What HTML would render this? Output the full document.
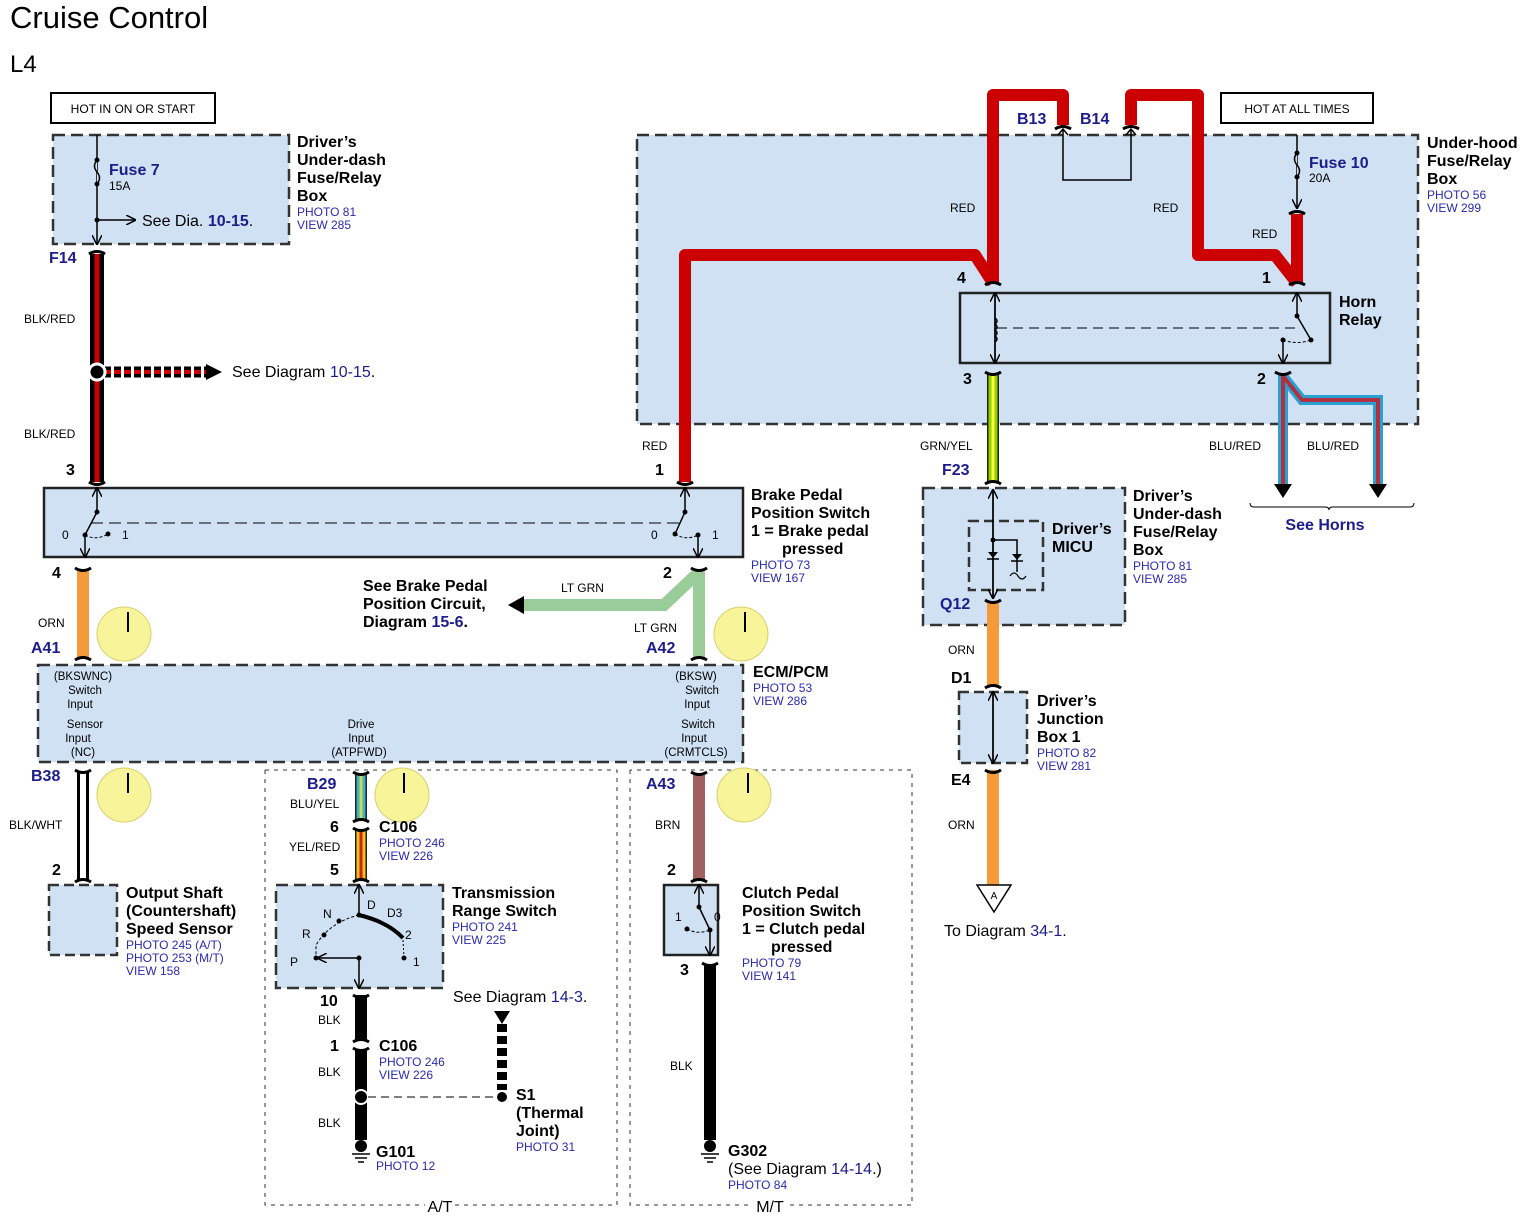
<!DOCTYPE html>
<html><head><meta charset="utf-8"><style>
html,body{margin:0;padding:0;background:#fff}
svg{display:block}
text{font-family:"Liberation Sans",Arial,sans-serif}
.b{font-weight:bold;font-size:16px;fill:#000}
.bl{font-weight:bold;font-size:16px;fill:#1c1c8c}
.s{font-size:12px;fill:#000}
.p{font-size:12px;fill:#2a2ab0}
.n{font-weight:bold;font-size:16px;fill:#000}
</style></head><body>
<svg width="1534" height="1222" viewBox="0 0 1534 1222" xmlns="http://www.w3.org/2000/svg">
<defs>
<marker id="ah" markerWidth="10" markerHeight="10" refX="9" refY="5" orient="auto" markerUnits="userSpaceOnUse"><path d="M0,0 L10,5 L0,10" fill="none" stroke="#000" stroke-width="1.5"/></marker>
</defs>
<text x="10" y="28" style="font-size:31px">Cruise Control</text>
<text x="10" y="72" style="font-size:24px">L4</text>

<rect x="51" y="93" width="164" height="30" fill="#fff" stroke="#000" stroke-width="2"/>
<text x="133" y="113" class="s" text-anchor="middle">HOT IN ON OR START</text>
<rect x="1221" y="93" width="152" height="30" fill="#fff" stroke="#000" stroke-width="2"/>
<text x="1297" y="113" class="s" text-anchor="middle">HOT AT ALL TIMES</text>

<rect x="53" y="135" width="236" height="109" fill="#cfe1f3" stroke="#333" stroke-width="2.5" stroke-dasharray="12,6"/>
<rect x="637" y="135" width="781" height="289" fill="#cfe1f3" stroke="#333" stroke-width="2.5" stroke-dasharray="12,6"/>
<rect x="44" y="488" width="699" height="69" fill="#cfe1f3" stroke="#222" stroke-width="2.5"/>
<rect x="38" y="665" width="705" height="97" fill="#cfe1f3" stroke="#333" stroke-width="2.5" stroke-dasharray="12,6"/>
<rect x="923" y="488" width="202" height="137" fill="#cfe1f3" stroke="#333" stroke-width="2.5" stroke-dasharray="12,6"/>
<rect x="969" y="521" width="74" height="69" fill="none" stroke="#333" stroke-width="2.5" stroke-dasharray="10,5"/>
<rect x="959" y="692" width="68" height="71" fill="#cfe1f3" stroke="#333" stroke-width="2.5" stroke-dasharray="10,5"/>
<rect x="960" y="293" width="370" height="70" fill="#cfe1f3" stroke="#222" stroke-width="2.5"/>
<rect x="49" y="885" width="68" height="70" fill="#cfe1f3" stroke="#333" stroke-width="2.5" stroke-dasharray="10,5"/>
<rect x="276" y="885" width="167" height="103" fill="#cfe1f3" stroke="#333" stroke-width="2.5" stroke-dasharray="12,6"/>
<rect x="664" y="885" width="54" height="70" fill="#cfe1f3" stroke="#222" stroke-width="2.5"/>
<path d="M265,770 V1205 H425 M455,1205 H617 V770" fill="none" stroke="#333" stroke-width="1" stroke-dasharray="4,5"/>
<line x1="265" y1="770" x2="617" y2="770" stroke="#333" stroke-width="1" stroke-dasharray="4,5"/>
<path d="M630,770 V1205 H752 M790,1205 H912 V770 H630" fill="none" stroke="#333" stroke-width="1" stroke-dasharray="4,5"/>
<text x="440" y="1212" class="s" style="font-size:16px" text-anchor="middle">A/T</text>
<text x="770" y="1212" class="s" style="font-size:16px" text-anchor="middle">M/T</text>

<line x1="97" y1="135" x2="97" y2="244" stroke="#000" stroke-width="1.5" marker-end="url(#ah)"/>
<path d="M97,160 q-5,6 0,12 q5,6 0,12" fill="#cfe1f3" stroke="#000" stroke-width="1.5"/>
<circle cx="97" cy="160" r="2.5"/><circle cx="97" cy="184" r="2.5"/><circle cx="97" cy="220" r="2.5"/>
<line x1="97" y1="220" x2="135" y2="220" stroke="#000" stroke-width="1.5" marker-end="url(#ah)"/>
<text x="109" y="175" class="bl">Fuse 7</text><text x="109" y="190" class="s">15A</text>
<text x="142" y="226" class="n" style="font-weight:normal">See  Dia.  <tspan fill="#1c1c8c" font-weight="bold">10-15</tspan>.</text>
<text x="297" y="147" class="b">Driver’s</text><text x="297" y="165" class="b">Under-dash</text><text x="297" y="183" class="b">Fuse/Relay</text><text x="297" y="201" class="b">Box</text>
<text x="297" y="216" class="p">PHOTO 81</text><text x="297" y="229" class="p">VIEW 285</text>
<text x="49" y="263" class="bl">F14</text>

<line x1="97" y1="254" x2="97" y2="482" stroke="#000" stroke-width="14"/>
<line x1="97" y1="254" x2="97" y2="482" stroke="#c00" stroke-width="5"/>
<line x1="104" y1="372" x2="208" y2="372" stroke="#000" stroke-width="11" stroke-dasharray="7,3"/>
<line x1="104" y1="372" x2="208" y2="372" stroke="#c00" stroke-width="4" stroke-dasharray="7,3"/>
<path d="M206,364 L222,372 L206,380Z"/>
<circle cx="97" cy="372" r="8" fill="#000" stroke="#fff" stroke-width="3"/>
<text x="232" y="377" class="n" style="font-weight:normal">See Diagram <tspan fill="#1c1c8c">10-15</tspan>.</text>
<text x="24" y="323" class="s">BLK/RED</text><text x="24" y="438" class="s">BLK/RED</text>
<text x="66" y="475" class="n">3</text>

<g fill="none" stroke="#c00" stroke-width="12" stroke-linejoin="round">
<path d="M685,482 V255 H975 L993,283"/>
<path d="M993,283 V95 H1063 V125"/>
<path d="M1131,125 V95 H1198 V255 H1275 L1297,283"/>
<path d="M1297,214 V283"/>
</g>
<path d="M1063,130 V180 H1131 V130" fill="none" stroke="#000" stroke-width="1.5"/>
<path d="M1058,135 l5,-6 l5,6 M1126,135 l5,-6 l5,6" fill="none" stroke="#000" stroke-width="1.5"/>
<text x="1017" y="124" class="bl">B13</text><text x="1080" y="124" class="bl">B14</text>
<text x="950" y="212" class="s">RED</text><text x="1153" y="212" class="s">RED</text><text x="1252" y="238" class="s">RED</text>
<text x="642" y="450" class="s">RED</text>
<text x="655" y="475" class="n">1</text>
<line x1="1297" y1="135" x2="1297" y2="208" stroke="#000" stroke-width="1.5" marker-end="url(#ah)"/>
<path d="M1297,153 q-5,6 0,12 q5,6 0,12" fill="#cfe1f3" stroke="#000" stroke-width="1.5"/>
<circle cx="1297" cy="153" r="2.5"/><circle cx="1297" cy="177" r="2.5"/>
<text x="1309" y="168" class="bl">Fuse 10</text><text x="1309" y="182" class="s">20A</text>
<text x="1427" y="148" class="b">Under-hood</text><text x="1427" y="166" class="b">Fuse/Relay</text><text x="1427" y="184" class="b">Box</text>
<text x="1427" y="199" class="p">PHOTO 56</text><text x="1427" y="212" class="p">VIEW 299</text>

<text x="957" y="283" class="n">4</text><text x="1262" y="283" class="n">1</text>
<text x="963" y="384" class="n">3</text><text x="1257" y="384" class="n">2</text>
<line x1="995" y1="363" x2="995" y2="293" stroke="#000" stroke-width="1.5" marker-end="url(#ah)"/>
<line x1="995" y1="293" x2="995" y2="363" stroke="#000" stroke-width="1.5" marker-end="url(#ah)"/>
<path d="M995,318 q4,3 0,6 q4,3 0,6 q4,3 0,6 q4,3 0,6" fill="none" stroke="#000" stroke-width="1.5"/>
<line x1="997" y1="328" x2="1297" y2="328" stroke="#000" stroke-width="1" stroke-dasharray="10,6"/>
<line x1="1297" y1="316" x2="1297" y2="293" stroke="#000" stroke-width="1.5" marker-end="url(#ah)"/>
<path d="M1297,316 L1311,340" stroke="#000" stroke-width="1.5"/>
<circle cx="1297" cy="316" r="2.5"/><circle cx="1311" cy="340" r="2.5"/><circle cx="1283" cy="340" r="2.5"/>
<path d="M1283,340 Q1297,345 1311,340" fill="none" stroke="#000" stroke-width="1" stroke-dasharray="3,2"/>
<line x1="1283" y1="340" x2="1283" y2="363" stroke="#000" stroke-width="1.5" marker-end="url(#ah)"/>
<text x="1339" y="307" class="b">Horn</text><text x="1339" y="325" class="b">Relay</text>

<line x1="993" y1="374" x2="993" y2="482" stroke="#222" stroke-width="12"/>
<line x1="993" y1="374" x2="993" y2="482" stroke="#8fd000" stroke-width="9"/>
<line x1="993" y1="374" x2="993" y2="482" stroke="#ffff40" stroke-width="3"/>
<text x="920" y="450" class="s">GRN/YEL</text>
<text x="942" y="475" class="bl">F23</text>

<g fill="none" stroke-linejoin="miter">
<path d="M1283,374 V485 M1283,376 L1302,400 H1378 V485" stroke="#2aa0d0" stroke-width="10"/>
<path d="M1283,374 V485 M1283,376 L1302,400 H1378 V485" stroke="#b03040" stroke-width="4"/>
</g>
<path d="M1274,484 L1292,484 L1283,498Z M1369,484 L1387,484 L1378,498Z"/>
<text x="1209" y="450" class="s">BLU/RED</text><text x="1307" y="450" class="s">BLU/RED</text>
<path d="M1250,503 q0,4 4,4 H1325 q4,0 4,3 q0,-3 4,-3 H1410 q4,0 4,-4" fill="none" stroke="#000" stroke-width="1"/>
<text x="1325" y="530" class="bl" text-anchor="middle">See Horns</text>

<line x1="993" y1="598" x2="993" y2="490" stroke="#000" stroke-width="1.5" marker-end="url(#ah)"/>
<line x1="993" y1="490" x2="993" y2="598" stroke="#000" stroke-width="1.5" marker-end="url(#ah)"/>
<path d="M993,540 H1017 V572" fill="none" stroke="#000" stroke-width="1.5"/>
<circle cx="993" cy="540" r="2.5"/>
<path d="M988,552 h10 l-5,6z M1012,554 h10 l-5,6z" />
<line x1="987" y1="559" x2="999" y2="559" stroke="#000" stroke-width="1.5"/>
<line x1="1011" y1="561" x2="1023" y2="561" stroke="#000" stroke-width="1.5"/>
<path d="M1010,576 q4,-6 8,0 q4,6 8,0" fill="none" stroke="#000" stroke-width="1.2"/>
<text x="1052" y="534" class="b">Driver’s</text><text x="1052" y="552" class="b">MICU</text>
<text x="1133" y="501" class="b">Driver’s</text><text x="1133" y="519" class="b">Under-dash</text><text x="1133" y="537" class="b">Fuse/Relay</text><text x="1133" y="555" class="b">Box</text>
<text x="1133" y="570" class="p">PHOTO 81</text><text x="1133" y="583" class="p">VIEW 285</text>
<text x="940" y="609" class="bl">Q12</text>

<line x1="993" y1="602" x2="993" y2="686" stroke="#f59a3a" stroke-width="12"/>
<line x1="993" y1="770" x2="993" y2="885" stroke="#f59a3a" stroke-width="12"/>
<text x="948" y="654" class="s">ORN</text><text x="948" y="829" class="s">ORN</text>
<text x="951" y="683" class="n">D1</text><text x="951" y="785" class="n">E4</text>
<line x1="993" y1="763" x2="993" y2="692" stroke="#000" stroke-width="1.5" marker-end="url(#ah)"/>
<line x1="993" y1="692" x2="993" y2="763" stroke="#000" stroke-width="1.5" marker-end="url(#ah)"/>
<text x="1037" y="706" class="b">Driver’s</text><text x="1037" y="724" class="b">Junction</text><text x="1037" y="742" class="b">Box 1</text>
<text x="1037" y="757" class="p">PHOTO 82</text><text x="1037" y="770" class="p">VIEW 281</text>
<path d="M977,885 H1011 L994,912Z" fill="#fff" stroke="#000" stroke-width="1.5"/>
<text x="994" y="899" style="font-size:10px" text-anchor="middle">A</text>
<text x="944" y="936" class="n" style="font-weight:normal">To Diagram <tspan fill="#1c1c8c">34-1</tspan>.</text>

<line x1="97" y1="512" x2="97" y2="488" stroke="#000" stroke-width="1.5" marker-end="url(#ah)"/>
<line x1="85" y1="535" x2="85" y2="557" stroke="#000" stroke-width="1.5" marker-end="url(#ah)"/>
<path d="M97,512 L85,535" stroke="#000" stroke-width="1.5"/>
<circle cx="97" cy="512" r="2.5"/><circle cx="85" cy="535" r="2.5"/><circle cx="108" cy="534" r="2.5"/>
<path d="M85,535 Q96,541 108,534" fill="none" stroke="#000" stroke-width="1" stroke-dasharray="3,2"/>
<line x1="91" y1="523" x2="680" y2="523" stroke="#000" stroke-width="1" stroke-dasharray="12,6"/>
<line x1="685" y1="512" x2="685" y2="488" stroke="#000" stroke-width="1.5" marker-end="url(#ah)"/>
<path d="M685,512 L675,534" stroke="#000" stroke-width="1.5"/>
<circle cx="685" cy="512" r="2.5"/><circle cx="675" cy="534" r="2.5"/><circle cx="698" cy="535" r="2.5"/>
<path d="M675,534 Q686,541 698,535" fill="none" stroke="#000" stroke-width="1" stroke-dasharray="3,2"/>
<line x1="698" y1="535" x2="698" y2="557" stroke="#000" stroke-width="1.5" marker-end="url(#ah)"/>
<text x="62" y="539" class="s">0</text><text x="122" y="539" class="s">1</text>
<text x="651" y="539" class="s">0</text><text x="712" y="539" class="s">1</text>
<text x="751" y="500" class="b">Brake Pedal</text><text x="751" y="518" class="b">Position Switch</text><text x="751" y="536" class="b">1 = Brake pedal</text><text x="782" y="554" class="b">pressed</text>
<text x="751" y="569" class="p">PHOTO 73</text><text x="751" y="582" class="p">VIEW 167</text>
<text x="52" y="578" class="n">4</text><text x="663" y="578" class="n">2</text>

<line x1="83" y1="570" x2="83" y2="658" stroke="#f59a3a" stroke-width="12"/>
<path d="M699,570 V658 M699,572 L664,605 H524" fill="none" stroke="#99cc99" stroke-width="12"/>
<path d="M524,596 L508,605 L524,614Z"/>
<text x="38" y="627" class="s">ORN</text>
<text x="561" y="592" class="s">LT GRN</text><text x="634" y="632" class="s">LT GRN</text>
<text x="31" y="653" class="bl">A41</text><text x="646" y="653" class="bl">A42</text>
<text x="363" y="591" class="b">See Brake Pedal</text><text x="363" y="609" class="b">Position Circuit,</text><text x="363" y="627" class="b">Diagram  <tspan fill="#1c1c8c">15-6</tspan>.</text>

<g fill="#f7f49a" stroke="#d8d070" stroke-width="1">
<circle cx="124" cy="634" r="27"/><circle cx="741" cy="634" r="27"/>
<circle cx="124" cy="795" r="27"/><circle cx="402" cy="795" r="27"/><circle cx="744" cy="795" r="27"/>
</g>
<g stroke="#000" stroke-width="2">
<line x1="128" y1="612" x2="128" y2="632"/><line x1="745" y1="612" x2="745" y2="632"/>
<line x1="128" y1="773" x2="128" y2="793"/><line x1="404" y1="773" x2="404" y2="793"/><line x1="748" y1="773" x2="748" y2="793"/>
</g>

<g class="s" style="font-size:11.5px" text-anchor="middle">
<text x="83" y="680">(BKSWNC)</text><text x="85" y="694">Switch</text><text x="80" y="708">Input</text>
<text x="85" y="728">Sensor</text><text x="78" y="742">Input</text><text x="83" y="756">(NC)</text>
<text x="361" y="728">Drive</text><text x="361" y="742">Input</text><text x="359" y="756">(ATPFWD)</text>
<text x="696" y="680">(BKSW)</text><text x="702" y="694">Switch</text><text x="697" y="708">Input</text>
<text x="698" y="728">Switch</text><text x="694" y="742">Input</text><text x="696" y="756">(CRMTCLS)</text>
</g>
<text x="753" y="677" class="b">ECM/PCM</text>
<text x="753" y="692" class="p">PHOTO 53</text><text x="753" y="705" class="p">VIEW 286</text>

<line x1="83" y1="772" x2="83" y2="880" stroke="#000" stroke-width="12"/>
<line x1="83" y1="772" x2="83" y2="880" stroke="#fff" stroke-width="6"/>
<text x="31" y="781" class="bl">B38</text><text x="9" y="829" class="s">BLK/WHT</text><text x="52" y="875" class="n">2</text>
<text x="126" y="898" class="b">Output Shaft</text><text x="126" y="916" class="b">(Countershaft)</text><text x="126" y="934" class="b">Speed Sensor</text>
<text x="126" y="949" class="p">PHOTO 245 (A/T)</text><text x="126" y="962" class="p">PHOTO 253 (M/T)</text><text x="126" y="975" class="p">VIEW 158</text>

<line x1="361" y1="775" x2="361" y2="820" stroke="#222" stroke-width="12"/>
<line x1="361" y1="775" x2="361" y2="820" stroke="#40b0d0" stroke-width="9"/>
<line x1="361" y1="775" x2="361" y2="820" stroke="#c8e040" stroke-width="3"/>
<line x1="361" y1="830" x2="361" y2="880" stroke="#222" stroke-width="12"/>
<line x1="361" y1="830" x2="361" y2="880" stroke="#f0c020" stroke-width="9"/>
<line x1="361" y1="830" x2="361" y2="880" stroke="#d02010" stroke-width="3"/>
<text x="307" y="789" class="bl">B29</text><text x="290" y="808" class="s">BLU/YEL</text>
<text x="330" y="832" class="n">6</text><text x="289" y="851" class="s">YEL/RED</text><text x="330" y="875" class="n">5</text>
<text x="379" y="832" class="b">C106</text><text x="379" y="847" class="p">PHOTO 246</text><text x="379" y="860" class="p">VIEW 226</text>
<line x1="359" y1="915" x2="359" y2="885" stroke="#000" stroke-width="1.5" marker-end="url(#ah)"/>
<line x1="359" y1="958" x2="359" y2="988" stroke="#000" stroke-width="1.5" marker-end="url(#ah)"/>
<path d="M359,915 Q388,922 403,938" fill="none" stroke="#000" stroke-width="4"/>
<path d="M359,915 Q330,922 316,945 L316,958" fill="none" stroke="#000" stroke-width="1" stroke-dasharray="3,2"/>
<path d="M403,940 L404,958" fill="none" stroke="#000" stroke-width="1" stroke-dasharray="2,2"/>
<line x1="359" y1="958" x2="318" y2="958" stroke="#000" stroke-width="1.5" marker-end="url(#ah)"/>
<circle cx="359" cy="915" r="2.5"/><circle cx="339" cy="921" r="2.5"/><circle cx="324" cy="935" r="2.5"/><circle cx="316" cy="958" r="2.5"/><circle cx="359" cy="958" r="2.5"/><circle cx="404" cy="958" r="2.5"/>
<g class="s" style="font-size:12px"><text x="367" y="909">D</text><text x="387" y="917">D3</text><text x="323" y="918">N</text><text x="302" y="938">R</text><text x="290" y="966">P</text><text x="405" y="939">2</text><text x="413" y="966">1</text></g>
<text x="452" y="898" class="b">Transmission</text><text x="452" y="916" class="b">Range Switch</text>
<text x="452" y="931" class="p">PHOTO 241</text><text x="452" y="944" class="p">VIEW 225</text>
<line x1="361" y1="995" x2="361" y2="1040" stroke="#000" stroke-width="12"/>
<line x1="361" y1="1050" x2="361" y2="1140" stroke="#000" stroke-width="12"/>
<circle cx="361" cy="1097" r="7" fill="#000" stroke="#fff" stroke-width="2"/>
<line x1="368" y1="1097" x2="496" y2="1097" stroke="#000" stroke-width="1" stroke-dasharray="8,5"/>
<circle cx="502" cy="1097" r="5"/>
<line x1="502" y1="1024" x2="502" y2="1090" stroke="#000" stroke-width="10" stroke-dasharray="8,4"/>
<path d="M494,1011 H510 L502,1024Z"/>
<text x="453" y="1002" class="n" style="font-weight:normal">See Diagram <tspan fill="#1c1c8c">14-3</tspan>.</text>
<text x="516" y="1100" class="b">S1</text><text x="516" y="1118" class="b">(Thermal</text><text x="516" y="1136" class="b">Joint)</text><text x="516" y="1151" class="p">PHOTO 31</text>
<text x="320" y="1006" class="n">10</text><text x="318" y="1024" class="s">BLK</text>
<text x="330" y="1051" class="n">1</text><text x="318" y="1076" class="s">BLK</text><text x="318" y="1127" class="s">BLK</text>
<text x="379" y="1051" class="b">C106</text><text x="379" y="1066" class="p">PHOTO 246</text><text x="379" y="1079" class="p">VIEW 226</text>
<circle cx="361" cy="1146" r="6"/>
<path d="M352,1154 H370 M355,1158 H367 M358,1162 H364" stroke="#000" stroke-width="1.5"/>
<text x="376" y="1157" class="b">G101</text><text x="376" y="1170" class="p">PHOTO 12</text>

<line x1="699" y1="775" x2="699" y2="880" stroke="#a06060" stroke-width="12"/>
<text x="646" y="789" class="bl">A43</text><text x="655" y="829" class="s">BRN</text><text x="667" y="875" class="n">2</text>
<line x1="699" y1="907" x2="699" y2="885" stroke="#000" stroke-width="1.5" marker-end="url(#ah)"/>
<path d="M699,907 L710,930" stroke="#000" stroke-width="1.5"/>
<circle cx="699" cy="907" r="2.5"/><circle cx="710" cy="930" r="2.5"/><circle cx="687" cy="929" r="2.5"/>
<path d="M687,929 Q698,935 710,930" fill="none" stroke="#000" stroke-width="1" stroke-dasharray="3,2"/>
<line x1="710" y1="930" x2="710" y2="955" stroke="#000" stroke-width="1.5" marker-end="url(#ah)"/>
<text x="675" y="921" class="s">1</text><text x="714" y="921" class="s">0</text>
<text x="742" y="898" class="b">Clutch Pedal</text><text x="742" y="916" class="b">Position Switch</text><text x="742" y="934" class="b">1 = Clutch pedal</text><text x="771" y="952" class="b">pressed</text>
<text x="742" y="967" class="p">PHOTO 79</text><text x="742" y="980" class="p">VIEW 141</text>
<text x="680" y="975" class="n">3</text>
<line x1="710" y1="965" x2="710" y2="1140" stroke="#000" stroke-width="12"/>
<text x="670" y="1070" class="s">BLK</text>
<circle cx="710" cy="1146" r="6"/>
<path d="M701,1154 H719 M704,1158 H716 M707,1162 H713" stroke="#000" stroke-width="1.5"/>
<text x="728" y="1156" class="b">G302</text>
<text x="728" y="1174" class="n" style="font-weight:normal">(See Diagram <tspan fill="#1c1c8c">14-14</tspan>.)</text>
<text x="728" y="1189" class="p">PHOTO 84</text>

<g fill="none" stroke="#000" stroke-width="3">
<path d="M89,254 q8,-5 16,0"/><path d="M89,482 q8,5 16,0"/><path d="M677,482 q8,5 16,0"/>
<path d="M1055,129 q8,-5 16,0"/><path d="M1123,129 q8,-5 16,0"/><path d="M1289,214 q8,-5 16,0"/>
<path d="M985,285 q8,-5 16,0"/><path d="M1289,285 q8,-5 16,0"/>
<path d="M985,372 q8,5 16,0"/><path d="M1275,372 q8,5 16,0"/>
<path d="M985,484 q8,-5 16,0"/><path d="M985,600 q8,5 16,0"/>
<path d="M985,688 q8,-5 16,0"/><path d="M985,770 q8,5 16,0"/>
<path d="M75,568 q8,5 16,0"/><path d="M691,568 q8,5 16,0"/>
<path d="M75,660 q8,-5 16,0"/><path d="M691,660 q8,-5 16,0"/>
<path d="M75,770 q8,5 16,0"/><path d="M353,772 q8,5 16,0"/><path d="M691,772 q8,5 16,0"/>
<path d="M75,882 q8,-5 16,0"/><path d="M353,882 q8,-5 16,0"/><path d="M691,882 q8,-5 16,0"/>
<path d="M353,822 q8,-5 16,0"/><path d="M353,828 q8,5 16,0"/>
<path d="M353,995 q8,5 16,0"/><path d="M353,1042 q8,-5 16,0"/><path d="M353,1048 q8,5 16,0"/>
<path d="M702,963 q8,5 16,0"/>
</g>
</svg>
</body></html>
